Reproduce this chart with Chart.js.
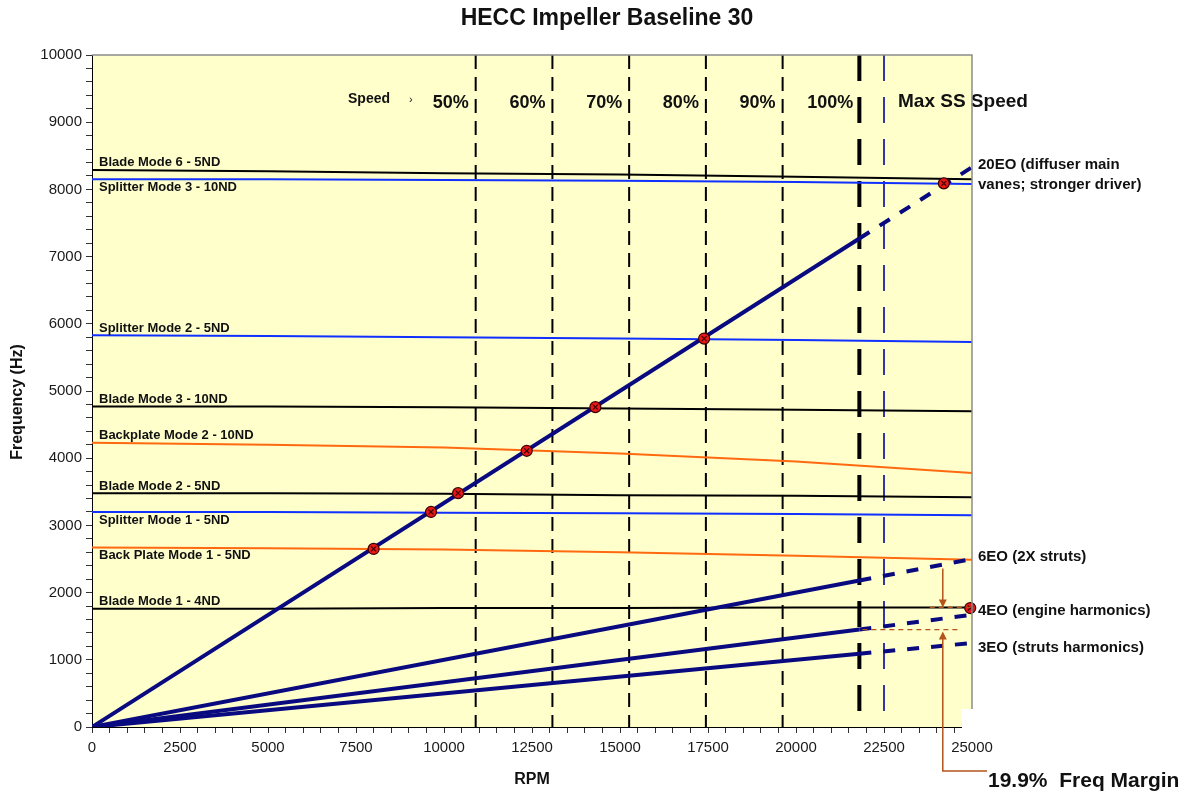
<!DOCTYPE html>
<html lang="en">
<head>
<meta charset="UTF-8">
<title>HECC Impeller Baseline 30</title>
<script src="https://cdn.jsdelivr.net/npm/chart.js"></script>
<style>
  body { margin: 0; background: #fff; }
  #wrap { width: 1201px; height: 797px; }
</style>
</head>
<body>
<div id="wrap"><canvas id="campbell" width="1201" height="797"></canvas></div>
<script>
// speeds (RPM) where the mode frequencies were read
const modeRpm = [0, 5000, 10000, 15000, 20000, 25000];

// mode frequencies (Hz)
const bladeMode6 = [8290, 8270, 8240, 8220, 8190, 8150];
const splitterMode3 = [8150, 8150, 8140, 8130, 8110, 8080];
const splitterMode2 = [5830, 5820, 5800, 5780, 5760, 5730];
const bladeMode3 = [4770, 4770, 4760, 4740, 4720, 4700];
const backplateMode2 = [4230, 4200, 4160, 4070, 3950, 3780];
const bladeMode2 = [3480, 3480, 3470, 3450, 3440, 3420];
const splitterMode1 = [3200, 3200, 3190, 3180, 3170, 3150];
const backPlateMode1 = [2670, 2660, 2640, 2600, 2550, 2490];
const bladeMode1 = [1760, 1760, 1770, 1770, 1780, 1780];

// engine order lines (solid to 100% speed, dashed beyond)
const eoRpm = [0, 21800, 25000];
const eo20 = [0, 7270, 8330];
const eo6 = [0, 2180, 2500];
const eo4 = [0, 1450, 1670];
const eo3 = [0, 1090, 1250];

// crossings marked on the chart
const markerRpm = [8000, 9630, 10400, 12350, 14300, 17390, 24200, 24950];
const markerHz = [2650, 3200, 3480, 4110, 4760, 5780, 8090, 1770];

// speed lines
const speedRpm = [10900, 13080, 15260, 17440, 19620];
const speedLabels = ['50%', '60%', '70%', '80%', '90%'];
const ratedRpm = 21800;
const maxSsRpm = 22500;

const xMax = 25000;
const yMax = 10000;

const black = '#000000';
const blue = '#1030ff';
const orange = '#ff6a10';
const navy = '#0a0a80';
const brown = '#b4541c';

const modes = [
    { label: 'Blade Mode 6 - 5ND', data: bladeMode6, color: black, below: false },
    { label: 'Splitter Mode 3 - 10ND', data: splitterMode3, color: blue, below: true },
    { label: 'Splitter Mode 2 - 5ND', data: splitterMode2, color: blue, below: false },
    { label: 'Blade Mode 3 - 10ND', data: bladeMode3, color: black, below: false },
    { label: 'Backplate Mode 2 - 10ND', data: backplateMode2, color: orange, below: false },
    { label: 'Blade Mode 2 - 5ND', data: bladeMode2, color: black, below: false },
    { label: 'Splitter Mode 1 - 5ND', data: splitterMode1, color: blue, below: true },
    { label: 'Back Plate Mode 1 - 5ND', data: backPlateMode1, color: orange, below: true },
    { label: 'Blade Mode 1 - 4ND', data: bladeMode1, color: black, below: false }
];

const eoLines = [
    { label: '20EO', data: eo20 },
    { label: '6EO', data: eo6 },
    { label: '4EO', data: eo4 },
    { label: '3EO', data: eo3 }
];

const pts = (xs, ys) => xs.map((x, i) => ({ x: x, y: ys[i] }));

const datasets = [];

// markers on top
const markerPts = pts(markerRpm, markerHz);
datasets.push({
    data: markerPts, pointStyle: 'crossRot', pointRadius: 3.5, borderColor: '#3a0000',
    borderWidth: 1.2, backgroundColor: 'transparent', clip: false
});
datasets.push({
    data: markerPts, pointStyle: 'circle', pointRadius: 5.5, borderColor: '#3a0000',
    borderWidth: 1.2, backgroundColor: '#e81818', clip: false
});

eoLines.forEach(eo => {
    datasets.push({
        label: eo.label, data: pts(eoRpm, eo.data), showLine: true, pointRadius: 0,
        borderColor: navy, borderWidth: 4, borderCapStyle: 'butt',
        segment: { borderDash: c => c.p0.parsed.x >= ratedRpm ? [12, 12] : undefined }
    });
});

modes.forEach(m => {
    datasets.push({
        label: m.label, data: pts(modeRpm, m.data), showLine: true, pointRadius: 0,
        borderColor: m.color, borderWidth: 2
    });
});

// vertical speed lines
speedRpm.forEach(r => {
    datasets.push({
        data: [{ x: r, y: yMax }, { x: r, y: 0 }], showLine: true, pointRadius: 0,
        borderColor: black, borderWidth: 2, borderDash: [14, 8]
    });
});
datasets.push({
    data: [{ x: ratedRpm, y: yMax }, { x: ratedRpm, y: 0 }], showLine: true, pointRadius: 0,
    borderColor: black, borderWidth: 4, borderDash: [26, 16]
});
datasets.push({
    data: [{ x: maxSsRpm, y: yMax }, { x: maxSsRpm, y: 0 }], showLine: true, pointRadius: 0,
    borderColor: '#3535a8', borderWidth: 2, borderDash: [26, 16]
});

function text(ctx, s, x, y, font, align, color) {
    ctx.font = font;
    ctx.textAlign = align || 'left';
    ctx.textBaseline = 'middle';
    ctx.fillStyle = color || '#111';
    ctx.fillText(s, x, y);
}

function arrowHead(ctx, x, y, dir) {
    // dir: 1 pointing down, -1 pointing up
    ctx.beginPath();
    ctx.moveTo(x, y);
    ctx.lineTo(x - 4, y - dir * 8);
    ctx.lineTo(x + 4, y - dir * 8);
    ctx.closePath();
    ctx.fill();
}

const decor = {
    id: 'decor',
    beforeDraw(chart) {
        const { ctx, chartArea: a } = chart;
        ctx.save();
        ctx.fillStyle = '#ffffff';
        ctx.fillRect(0, 0, chart.width, chart.height);
        ctx.fillStyle = '#ffffcc';
        ctx.fillRect(a.left, a.top, a.right - a.left, a.bottom - a.top);
        ctx.restore();
    },
    afterDatasetsDraw(chart) {
        const { ctx, chartArea: a, scales: { x, y } } = chart;
        ctx.save();
        // mode labels
        modes.forEach(m => {
            const py = y.getPixelForValue(m.data[0]);
            text(ctx, m.label, a.left + 7, m.below ? py + 8 : py - 7, 'bold 13px "Liberation Sans", Arial, sans-serif');
        });
        // speed labels
        const big = 'bold 18px "Liberation Sans", Arial, sans-serif';
        speedLabels.forEach((s, i) => {
            text(ctx, s, x.getPixelForValue(speedRpm[i]) - 7, 103, big, 'right');
        });
        text(ctx, '100%', x.getPixelForValue(ratedRpm) - 6, 103, big, 'right');
        text(ctx, 'Max SS Speed', x.getPixelForValue(maxSsRpm) + 14, 102, 'bold 19px "Liberation Sans", Arial, sans-serif', 'left');
        text(ctx, 'Speed', 348, 99, 'bold 14px "Liberation Sans", Arial, sans-serif');
        text(ctx, '\u203A', 409, 100, '11px "Liberation Sans", Arial, sans-serif');

        // frequency margin annotation
        ctx.strokeStyle = brown;
        ctx.fillStyle = brown;
        ctx.lineWidth = 1.5;
        const ax = x.getPixelForValue(24170);
        const top6 = y.getPixelForValue(2360);
        const b1 = y.getPixelForValue(bladeMode1[5]);
        const eo4rated = y.getPixelForValue(eo4[1]);
        ctx.beginPath();
        ctx.moveTo(ax, top6);
        ctx.lineTo(ax, b1 - 6);
        ctx.stroke();
        arrowHead(ctx, ax, b1, 1);

        ctx.setLineDash([5, 4]);
        ctx.lineWidth = 1.2;
        ctx.beginPath();
        ctx.moveTo(x.getPixelForValue(23800), b1);
        ctx.lineTo(x.getPixelForValue(xMax), b1);
        ctx.moveTo(x.getPixelForValue(ratedRpm) + 3, eo4rated);
        ctx.lineTo(x.getPixelForValue(24700), eo4rated);
        ctx.stroke();
        ctx.setLineDash([]);

        ctx.lineWidth = 1.5;
        ctx.beginPath();
        ctx.moveTo(ax, eo4rated + 8);
        ctx.lineTo(ax, 771);
        ctx.lineTo(987, 771);
        ctx.stroke();
        arrowHead(ctx, ax, eo4rated + 2, -1);
        ctx.restore();
    },
    afterDraw(chart) {
        const { ctx, chartArea: a } = chart;
        ctx.save();
        // plot frame (top and right)
        ctx.strokeStyle = '#8c8c8c';
        ctx.lineWidth = 1.5;
        ctx.beginPath();
        ctx.moveTo(a.left, a.top);
        ctx.lineTo(a.right, a.top);
        ctx.lineTo(a.right, a.bottom);
        ctx.stroke();
        // white patch over the lower right corner
        ctx.fillStyle = '#ffffff';
        ctx.fillRect(962, 709, 40, 26);

        text(ctx, 'HECC Impeller Baseline 30', 607, 19, 'bold 23px "Liberation Sans", Arial, sans-serif', 'center');
        text(ctx, 'RPM', 532, 780, 'bold 16px "Liberation Sans", Arial, sans-serif', 'center');
        ctx.save();
        ctx.translate(18, 402);
        ctx.rotate(-Math.PI / 2);
        text(ctx, 'Frequency (Hz)', 0, 0, 'bold 16px "Liberation Sans", Arial, sans-serif', 'center');
        ctx.restore();

        const side = 'bold 15px "Liberation Sans", Arial, sans-serif';
        const sx = a.right + 6;
        text(ctx, '20EO (diffuser main', sx, 165, side);
        text(ctx, 'vanes; stronger driver)', sx, 185, side);
        text(ctx, '6EO (2X struts)', sx, 557, side);
        text(ctx, '4EO (engine harmonics)', sx, 611, side);
        text(ctx, '3EO (struts harmonics)', sx, 648, side);

        text(ctx, '19.9%  Freq Margin', 988, 781, 'bold 21px "Liberation Sans", Arial, sans-serif');
        ctx.restore();
    }
};

const tickFont = { family: '"Liberation Sans", Arial, sans-serif', size: 15 };

new Chart(document.getElementById('campbell'), {
    type: 'scatter',
    data: { datasets: datasets },
    options: {
        responsive: false,
        animation: false,
        layout: { padding: { left: 0, right: 229, top: 55, bottom: 20 } },
        plugins: { legend: { display: false }, tooltip: { enabled: false } },
        scales: {
            x: {
                type: 'linear', min: 0, max: xMax,
                ticks: {
                    stepSize: 500, autoSkip: false, maxRotation: 0, padding: 6,
                    color: '#1a1a1a', font: tickFont,
                    callback: v => v % 2500 === 0 ? String(v) : ''
                },
                grid: { drawOnChartArea: false, tickLength: 6, color: '#333' },
                border: { color: '#000', width: 1 },
                afterFit: s => { s.height = 50; }
            },
            y: {
                type: 'linear', min: 0, max: yMax,
                ticks: {
                    stepSize: 200, autoSkip: false, padding: 4,
                    color: '#1a1a1a', font: tickFont,
                    callback: v => v % 1000 === 0 ? String(v) : ''
                },
                grid: { drawOnChartArea: false, tickLength: 6, color: '#333' },
                border: { color: '#000', width: 1 },
                afterFit: s => { s.width = 92; }
            }
        }
    },
    plugins: [decor]
});
</script>
</body>
</html>
